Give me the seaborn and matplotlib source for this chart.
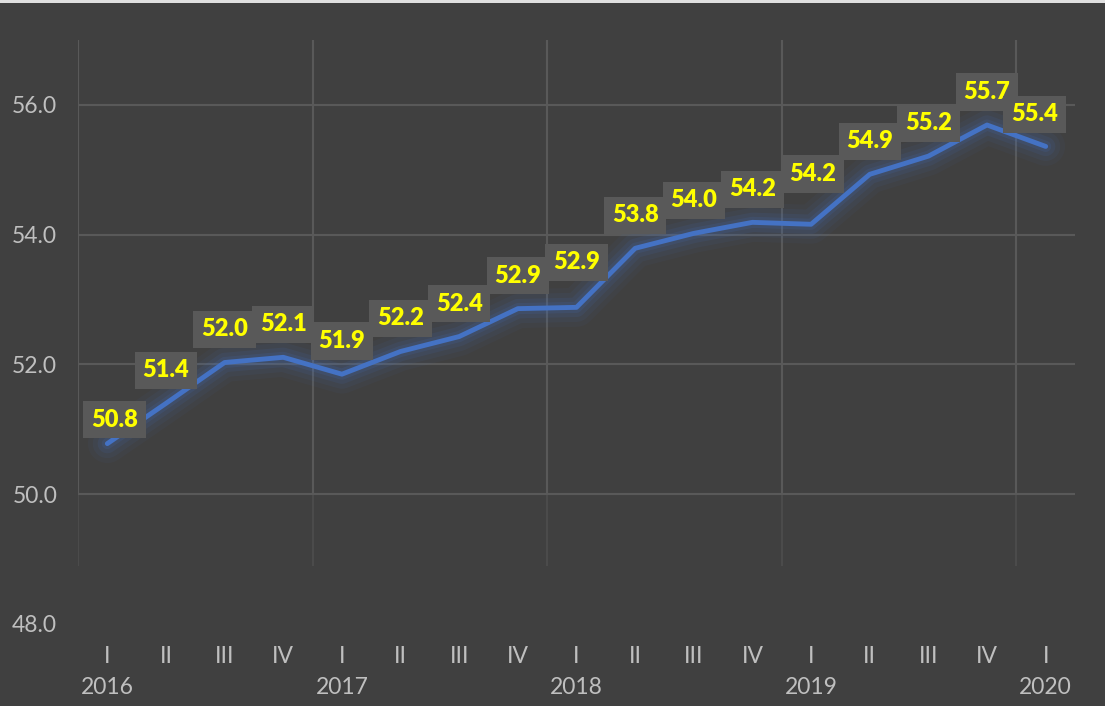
import matplotlib
matplotlib.use("Agg")
import matplotlib.pyplot as plt
import seaborn as sns
import pandas as pd
import numpy as np

# --- Data ---
quarters = ["I", "II", "III", "IV",
            "I", "II", "III", "IV",
            "I", "II", "III", "IV",
            "I", "II", "III", "IV",
            "I"]
years = ["2016", "2017", "2018", "2019", "2020"]
values = [50.78, 51.40, 52.03, 52.11, 51.85, 52.20, 52.43, 52.86, 52.88,
          53.79, 54.02, 54.19, 54.16, 54.93, 55.21, 55.69, 55.36]

df = pd.DataFrame({"idx": range(len(values)), "value": values, "quarter": quarters})

# --- Style ---
BG = "#404040"
GRID = "#595959"
TICK = "#BFBFBF"
LINE = "#4472C4"

sns.set_theme(style="dark")
plt.rcParams["font.family"] = ["Lato", "DejaVu Sans"]

fig = plt.figure(figsize=(11.05, 7.06), dpi=100, facecolor=BG)
ax = fig.add_axes([78 / 1105, 1 - 624 / 706, (1075 - 78) / 1105, (624 - 40) / 706])
ax.set_facecolor(BG)

ax.set_xlim(-0.5, len(values) - 0.5)
ax.set_ylim(48, 57)

# grid lines
for y in [50, 52, 54, 56]:
    ax.axhline(y, color=GRID, lw=1.5, zorder=0)
for x in [-0.5, 3.5, 7.5, 11.5, 15.5]:
    ax.plot([x, x], [50, 57], color=GRID, lw=1.5, zorder=0, solid_capstyle="butt")
    ax.plot([x, x], [48.9, 50], color=GRID, lw=1.5, alpha=0.45, zorder=0,
            solid_capstyle="butt")

# glow under the line
for lw, a in [(28, 0.05), (21, 0.07), (14, 0.10), (8, 0.14)]:
    ax.plot(df["idx"], df["value"], color=LINE, lw=lw, alpha=a,
            solid_joinstyle="round", solid_capstyle="round", zorder=1)

sns.lineplot(data=df, x="idx", y="value", color=LINE, lw=3.5, ax=ax, zorder=2)
for l in ax.lines[-1:]:
    l.set_solid_capstyle("round")
    l.set_solid_joinstyle("round")

# data labels (offsets in pixels)
nudge = {0: (7, 24), 8: (0, 45), 12: (2, 50), 16: (-11, 32)}
for i, v in enumerate(values):
    dx, dy = nudge.get(i, (0, 33))
    ax.annotate(f"{v:.1f}", (i, v), xytext=(dx, dy), textcoords="offset pixels",
                ha="center", va="center", color="#FFFF00", fontsize=17,
                fontweight="heavy", zorder=5,
                bbox=dict(boxstyle="square,pad=0.33", fc="#595959", ec="none"))

# axes
for s in ax.spines.values():
    s.set_visible(False)
ax.set_xlabel("")
ax.set_ylabel("")
ax.set_yticks([48, 50, 52, 54, 56])
ax.set_yticklabels([f"{t:.1f}" for t in [48, 50, 52, 54, 56]])
ax.set_xticks(df["idx"])
ax.set_xticklabels(quarters)
ax.tick_params(axis="y", colors=TICK, labelsize=16.5, length=0, pad=15)
ax.tick_params(axis="x", colors=TICK, labelsize=16.5, length=0, pad=16)

sec = ax.secondary_xaxis("bottom")
sec.set_xticks([0, 4, 8, 12, 16])
sec.set_xticklabels(years)
sec.tick_params(colors=TICK, labelsize=16.5, length=0, pad=38)
for s in sec.spines.values():
    s.set_visible(False)

# thin light strip at the top edge
fig.patches.append(plt.Rectangle((0, 1 - 3 / 706), 1, 3 / 706, transform=fig.transFigure,
                                 fc="#E0E0E0", ec="none"))

fig.savefig("out.png", dpi=100, facecolor=BG)
